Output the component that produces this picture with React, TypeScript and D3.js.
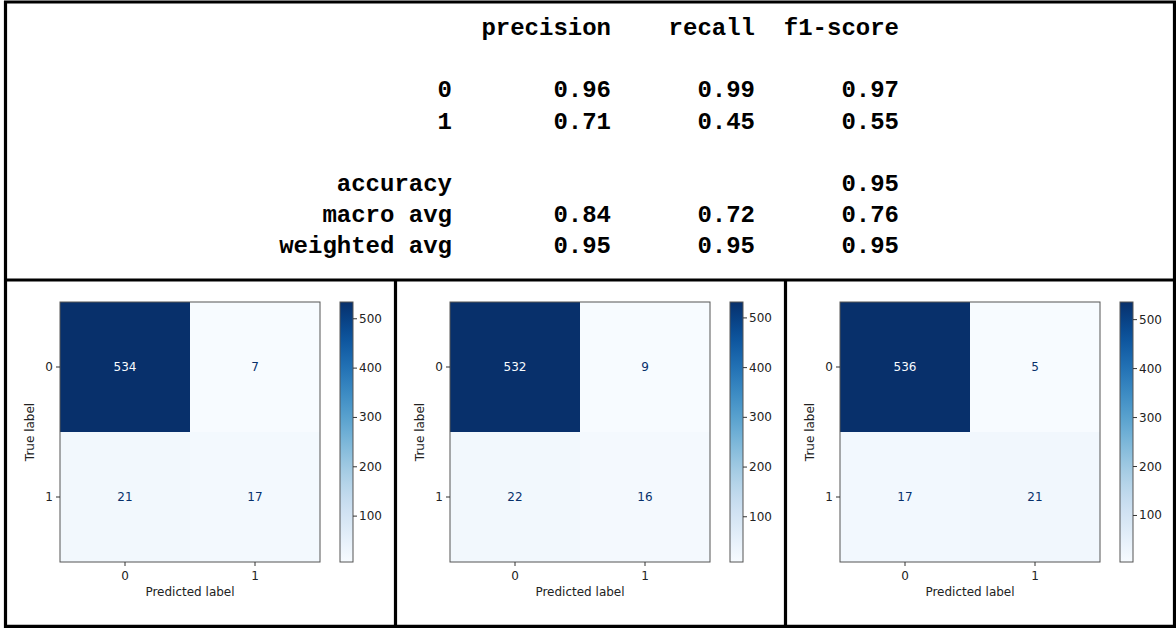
import React from "react";
import * as d3 from "d3";

// ---- Classification report data ----
const reportHeaders = ["precision", "recall", "f1-score"];
const reportRowLabels = ["0", "1", "accuracy", "macro avg", "weighted avg"];
const reportLineIndex = [2, 3, 5, 6, 7];
const precisionValues: (number | null)[] = [0.96, 0.71, null, 0.84, 0.95];
const recallValues: (number | null)[] = [0.99, 0.45, null, 0.72, 0.95];
const f1Values: (number | null)[] = [0.97, 0.55, 0.95, 0.76, 0.95];

// ---- Confusion matrices ----
const classLabels = ["0", "1"];
const cmFirst = [
  [534, 7],
  [21, 17],
];
const cmSecond = [
  [532, 9],
  [22, 16],
];
const cmThird = [
  [536, 5],
  [17, 21],
];
const colorbarTicks = [100, 200, 300, 400, 500];

const W = 1176;
const H = 629;
const MONO = "'Liberation Mono', 'Courier New', monospace";
const SANS = "'DejaVu Sans', sans-serif";

const lineY = d3.scaleLinear().domain([0, 7]).range([35, 253.4]);
const colRight = [452, 611, 755, 899];

function fmt(v: number | null) {
  return v == null ? "" : v.toFixed(2);
}

function Report() {
  const cols = [precisionValues, recallValues, f1Values];
  return (
    <g fontFamily={MONO} fontWeight="bold" fontSize={24} fill="#000">
      {reportHeaders.map((h, i) => (
        <text key={h} x={colRight[i + 1]} y={lineY(0)} textAnchor="end">
          {h}
        </text>
      ))}
      {reportRowLabels.map((lab, r) => (
        <g key={lab}>
          <text x={colRight[0]} y={lineY(reportLineIndex[r])} textAnchor="end">
            {lab}
          </text>
          {cols.map((c, ci) => (
            <text
              key={ci}
              x={colRight[ci + 1]}
              y={lineY(reportLineIndex[r])}
              textAnchor="end"
            >
              {fmt(c[r])}
            </text>
          ))}
        </g>
      ))}
    </g>
  );
}

function Matrix({ cm, ox, id }: { cm: number[][]; ox: number; id: string }) {
  const left = ox + 60;
  const top = 302;
  const size = 260;
  const x = d3.scaleBand().domain(classLabels).range([left, left + size]);
  const y = d3.scaleBand().domain(classLabels).range([top, top + size]);
  const flat = cm.flat();
  const vmin = d3.min(flat) as number;
  const vmax = d3.max(flat) as number;
  const color = d3.scaleSequential(d3.interpolateBlues).domain([vmin, vmax]);
  const thresh = (vmin + vmax) / 2;
  const cbLeft = ox + 340;
  const cbW = 13;
  const cbY = d3.scaleLinear().domain([vmin, vmax]).range([top + size, top]);
  const stops = d3.range(0, 1.0001, 0.05);
  const tickColor = "#333";
  const fs = 12;
  return (
    <g fontFamily={SANS} fontSize={fs}>
      <defs>
        <linearGradient id={id} x1="0" y1="1" x2="0" y2="0">
          {stops.map((s) => (
            <stop key={s} offset={s} stopColor={d3.interpolateBlues(s)} />
          ))}
        </linearGradient>
      </defs>
      {cm.map((row, ri) =>
        row.map((v, ci) => (
          <g key={`${ri}-${ci}`}>
            <rect
              x={x(classLabels[ci])}
              y={y(classLabels[ri])}
              width={x.bandwidth()}
              height={y.bandwidth()}
              fill={color(v)}
            />
            <text
              x={(x(classLabels[ci]) as number) + x.bandwidth() / 2}
              y={(y(classLabels[ri]) as number) + y.bandwidth() / 2}
              textAnchor="middle"
              dominantBaseline="central"
              fill={v < thresh ? d3.interpolateBlues(1) : d3.interpolateBlues(0)}
            >
              {v}
            </text>
          </g>
        ))
      )}
      <rect x={left} y={top} width={size} height={size} fill="none" stroke="#555" strokeWidth={1} />
      {/* x ticks */}
      {classLabels.map((c) => {
        const cx = (x(c) as number) + x.bandwidth() / 2;
        return (
          <g key={"x" + c}>
            <line x1={cx} x2={cx} y1={top + size} y2={top + size + 4} stroke={tickColor} />
            <text x={cx} y={top + size + 14} textAnchor="middle" dominantBaseline="central" fill="#222">
              {c}
            </text>
          </g>
        );
      })}
      <text x={left + size / 2} y={592} textAnchor="middle" dominantBaseline="central" fill="#222">
        Predicted label
      </text>
      {/* y ticks */}
      {classLabels.map((c) => {
        const cy = (y(c) as number) + y.bandwidth() / 2;
        return (
          <g key={"y" + c}>
            <line x1={left - 4} x2={left} y1={cy} y2={cy} stroke={tickColor} />
            <text x={left - 7} y={cy} textAnchor="end" dominantBaseline="central" fill="#222">
              {c}
            </text>
          </g>
        );
      })}
      <text
        transform={`translate(${ox + 30},${top + size / 2}) rotate(-90)`}
        textAnchor="middle"
        dominantBaseline="central"
        fill="#222"
      >
        True label
      </text>
      {/* colorbar */}
      <rect x={cbLeft} y={top} width={cbW} height={size} fill={`url(#${id})`} stroke="#555" strokeWidth={1} />
      {colorbarTicks.map((t) => (
        <g key={"cb" + t}>
          <line x1={cbLeft + cbW} x2={cbLeft + cbW + 4} y1={cbY(t)} y2={cbY(t)} stroke={tickColor} />
          <text x={cbLeft + cbW + 6} y={cbY(t)} dominantBaseline="central" fill="#222">
            {t}
          </text>
        </g>
      ))}
    </g>
  );
}

export default function App() {
  return (
    <svg
      width={W}
      height={H}
      viewBox={`0 0 ${W} ${H}`}
      style={{ position: "absolute", left: 0, top: 0, background: "#fff" }}
    >
      <rect x={0} y={0} width={W} height={H} fill="#fff" />
      <Report />
      <Matrix cm={cmFirst} ox={0} id="gradA" />
      <Matrix cm={cmSecond} ox={390} id="gradB" />
      <Matrix cm={cmThird} ox={780} id="gradC" />
      {/* frame lines */}
      <g stroke="#000" strokeWidth={3.2} fill="none">
        <line x1={5.5} x2={5.5} y1={1} y2={628} />
        <line x1={1174.5} x2={1174.5} y1={1} y2={628} />
        <line x1={4} x2={1176} y1={2} y2={2} />
        <line x1={4} x2={1176} y1={626.3} y2={626.3} />
        <line x1={4} x2={1176} y1={280} y2={280} />
        <line x1={395.5} x2={395.5} y1={280} y2={628} />
        <line x1={785.5} x2={785.5} y1={280} y2={628} />
      </g>
    </svg>
  );
}
